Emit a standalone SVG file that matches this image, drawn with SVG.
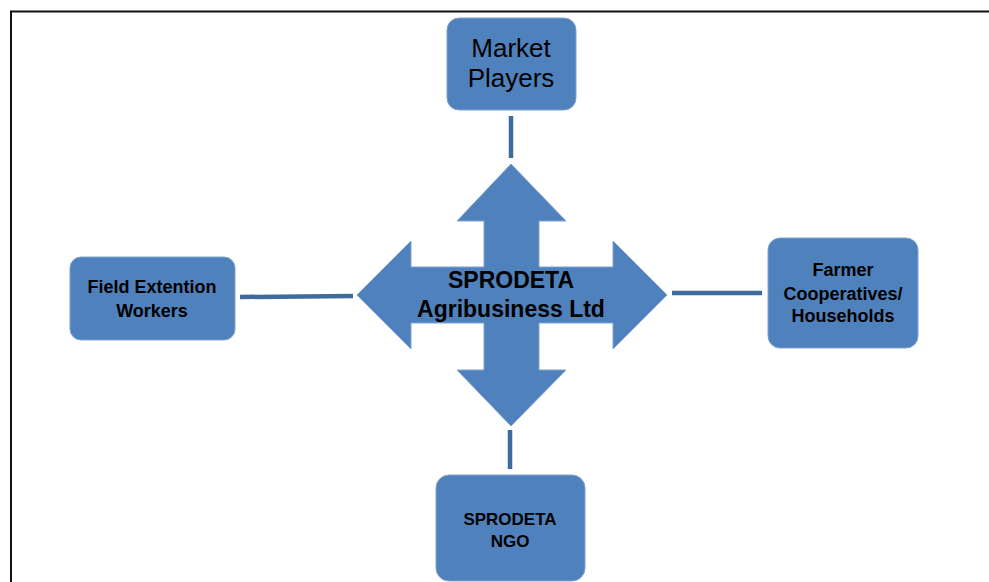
<svg xmlns="http://www.w3.org/2000/svg" width="989" height="582" viewBox="0 0 989 582">
<style>
.box{fill:#4F81BD;stroke:#7FA3D0;stroke-width:1}
.t{font-family:"Liberation Sans",Arial,sans-serif;fill:#000;text-anchor:middle}
.b{font-weight:bold}
.c{stroke:#3E6A9C;stroke-width:4.5;fill:none}
</style>
<rect width="989" height="582" fill="#fff"/>
<path d="M11,582 V11.5 H989" fill="none" stroke="#111" stroke-width="2"/>
<g id="connectors">
<line class="c" x1="511" y1="116" x2="511" y2="158"/>
<line class="c" x1="240" y1="297" x2="353" y2="296"/>
<line class="c" x1="672" y1="293" x2="762" y2="293"/>
<line class="c" x1="510" y1="430" x2="510" y2="469"/>
</g>
<g id="center">
<path d="M511,164 L566,221 L539,221 L539,267 L613,267 L613,241 L667,295 L613,349 L613,323 L539,323 L539,370 L566,370 L511,426 L457,370 L484,370 L484,323 L411,323 L411,349 L357,295 L411,241 L411,267 L484,267 L484,221 L457,221 Z" fill="#4F81BD" stroke="#7FA3D0" stroke-width="1" stroke-linejoin="round"/>
<text class="t b" x="511" y="288" font-size="23">SPRODETA</text>
<text class="t b" x="511" y="317" font-size="23">Agribusiness Ltd</text>
</g>
<g id="market">
<rect class="box" x="447" y="18" width="129" height="92" rx="12"/>
<text class="t" x="511" y="57" font-size="26">Market</text>
<text class="t" x="511" y="87" font-size="26">Players</text>
</g>
<g id="field">
<rect class="box" x="70" y="257" width="165" height="83" rx="11"/>
<text class="t b" x="152" y="293" font-size="18">Field Extention</text>
<text class="t b" x="152" y="317" font-size="18">Workers</text>
</g>
<g id="farmer">
<rect class="box" x="768" y="238" width="150" height="110" rx="12"/>
<text class="t b" x="843" y="276" font-size="18">Farmer</text>
<text class="t b" x="843" y="300" font-size="18">Cooperatives/</text>
<text class="t b" x="843" y="322" font-size="18">Households</text>
</g>
<g id="ngo">
<rect class="box" x="436" y="475" width="149" height="106" rx="13"/>
<text class="t b" x="510" y="525" font-size="17">SPRODETA</text>
<text class="t b" x="510" y="547" font-size="17">NGO</text>
</g>
</svg>
